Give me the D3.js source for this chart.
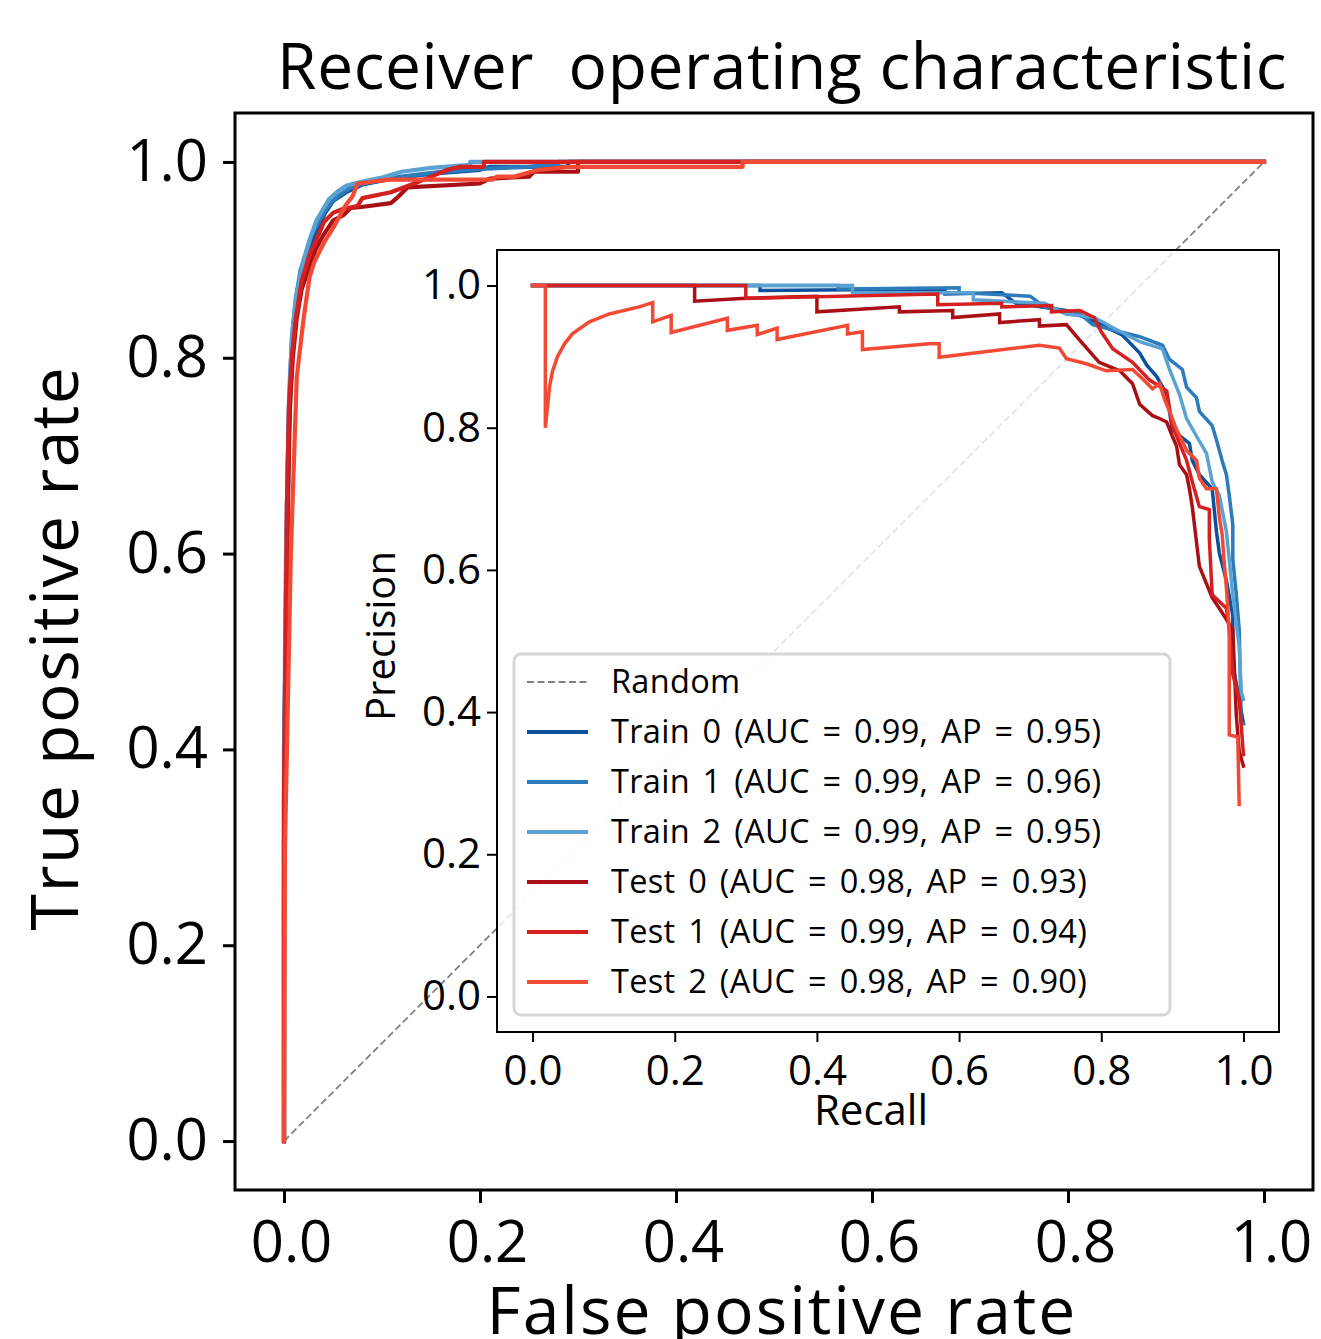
<!DOCTYPE html>
<html><head><meta charset="utf-8">
<script src="https://cdn.jsdelivr.net/npm/d3@7/dist/d3.min.js"></script>
<style>
body{margin:0;background:#fff}
svg{display:block}
text{font-family:"Open Sans",sans-serif;fill:#000}
</style>
</head><body>
<svg id="c" width="1321" height="1339"></svg>
<script>
// ---------------- DATA ----------------
const seriesNames = ["Train 0","Train 1","Train 2","Test 0","Test 1","Test 2"];
const aucValues = [0.99,0.99,0.99,0.98,0.99,0.98];
const apValues  = [0.95,0.96,0.95,0.93,0.94,0.90];
const tickValues = [0,0.2,0.4,0.6,0.8,1.0];
const tickLabels = ["0.0","0.2","0.4","0.6","0.8","1.0"];
const randomLine = [[0,0],[1,1]];

// ROC curves [fpr, tpr]
const rocTrain0 = [[0,0],[0,0.4],[0.003,0.6],[0.005,0.72],[0.008,0.8],[0.013,0.85],[0.018,0.88],[0.025,0.91],[0.033,0.93],[0.042,0.948],[0.05,0.96],[0.065,0.97],[0.08,0.977],[0.11,0.983],[0.15,0.988],[0.2,0.992],[0.21,0.995],[0.29,0.995],[0.29,1],[1,1]];
const rocTrain1 = [[0,0],[0,0.35],[0.002,0.55],[0.003,0.65],[0.005,0.75],[0.008,0.82],[0.012,0.86],[0.017,0.89],[0.022,0.905],[0.028,0.925],[0.036,0.94],[0.045,0.955],[0.055,0.965],[0.07,0.975],[0.09,0.98],[0.12,0.985],[0.16,0.99],[0.2,0.993],[0.25,0.995],[0.28,0.998],[0.28,1],[1,1]];
const rocTrain2 = [[0,0],[0,0.3],[0.001,0.5],[0.002,0.6],[0.004,0.7],[0.006,0.78],[0.009,0.83],[0.012,0.86],[0.016,0.88],[0.02,0.9],[0.026,0.92],[0.033,0.94],[0.04,0.952],[0.046,0.962],[0.055,0.97],[0.064,0.976],[0.08,0.98],[0.1,0.984],[0.12,0.99],[0.15,0.994],[0.19,0.997],[0.19,1],[1,1]];
const rocTest0 = [[0,0],[0,0.3],[0.002,0.5],[0.004,0.65],[0.006,0.75],[0.009,0.8],[0.013,0.84],[0.018,0.87],[0.025,0.89],[0.032,0.91],[0.04,0.925],[0.05,0.94],[0.061,0.946],[0.068,0.953],[0.079,0.954],[0.109,0.958],[0.115,0.963],[0.126,0.974],[0.2,0.978],[0.21,0.983],[0.25,0.985],[0.255,0.99],[0.3,0.99],[0.3,1],[1,1]];
const rocTest1 = [[0,0],[0,0.35],[0.002,0.55],[0.003,0.65],[0.005,0.75],[0.008,0.8],[0.012,0.84],[0.018,0.878],[0.026,0.905],[0.033,0.92],[0.041,0.939],[0.05,0.948],[0.06,0.952],[0.075,0.955],[0.08,0.963],[0.109,0.969],[0.133,0.978],[0.15,0.985],[0.167,0.992],[0.18,0.995],[0.204,0.995],[0.204,1],[1,1]];
const rocTest2 = [[0,0],[0.001,0.3],[0.003,0.4],[0.005,0.5],[0.007,0.6],[0.01,0.69],[0.013,0.78],[0.02,0.84],[0.026,0.882],[0.031,0.898],[0.041,0.918],[0.051,0.934],[0.063,0.956],[0.07,0.965],[0.075,0.978],[0.107,0.982],[0.213,0.982],[0.217,0.985],[0.235,0.985],[0.26,0.992],[0.29,0.995],[0.468,0.995],[0.468,1],[1,1]];

// Precision-recall curves [recall, precision]
const prTrain0 = [[0,1],[0.32,1],[0.32,0.993],[0.58,0.995],[0.58,0.988],[0.66,0.99],[0.68,0.975],[0.75,0.965],[0.77,0.958],[0.8,0.945],[0.83,0.93],[0.854,0.905],[0.864,0.888],[0.878,0.872],[0.892,0.847],[0.9,0.797],[0.924,0.778],[0.928,0.754],[0.938,0.734],[0.956,0.714],[0.962,0.654],[0.966,0.624],[0.976,0.585],[0.985,0.536],[0.985,0.467],[0.994,0.418],[1.0,0.384]];
const prTrain1 = [[0,1],[0.43,1],[0.43,0.995],[0.6,0.997],[0.6,0.99],[0.7,0.985],[0.72,0.97],[0.769,0.961],[0.788,0.945],[0.826,0.935],[0.854,0.928],[0.886,0.916],[0.896,0.896],[0.914,0.882],[0.92,0.857],[0.934,0.842],[0.938,0.823],[0.956,0.803],[0.962,0.783],[0.97,0.754],[0.976,0.734],[0.98,0.705],[0.985,0.664],[0.985,0.615],[0.99,0.565],[0.994,0.516],[0.997,0.384],[1.0,0.384]];
const prTrain2 = [[0,1],[0.45,1],[0.45,0.99],[0.62,0.99],[0.62,0.98],[0.72,0.975],[0.75,0.96],[0.79,0.955],[0.816,0.941],[0.854,0.921],[0.886,0.911],[0.896,0.882],[0.91,0.847],[0.92,0.813],[0.934,0.788],[0.948,0.764],[0.956,0.724],[0.966,0.705],[0.976,0.654],[0.98,0.615],[0.985,0.565],[0.994,0.492],[0.997,0.428],[1.0,0.418]];
const prTest0 = [[0,1],[0.228,1],[0.228,0.978],[0.3,0.982],[0.4,0.985],[0.4,0.963],[0.516,0.97],[0.516,0.963],[0.591,0.965],[0.591,0.955],[0.657,0.96],[0.657,0.948],[0.713,0.952],[0.713,0.943],[0.751,0.945],[0.769,0.924],[0.797,0.892],[0.826,0.88],[0.844,0.862],[0.854,0.833],[0.872,0.817],[0.882,0.813],[0.892,0.808],[0.9,0.788],[0.906,0.774],[0.91,0.748],[0.92,0.734],[0.924,0.714],[0.928,0.689],[0.938,0.605],[0.956,0.561],[0.966,0.546],[0.985,0.516],[0.99,0.394],[0.994,0.345],[1.0,0.324]];
const prTest1 = [[0,1],[0.3,1],[0.3,0.982],[0.57,0.988],[0.57,0.973],[0.66,0.975],[0.66,0.97],[0.73,0.972],[0.73,0.963],[0.77,0.965],[0.79,0.955],[0.8,0.935],[0.816,0.911],[0.844,0.892],[0.868,0.867],[0.892,0.852],[0.9,0.803],[0.91,0.778],[0.92,0.754],[0.928,0.724],[0.938,0.689],[0.952,0.685],[0.952,0.644],[0.956,0.565],[0.976,0.546],[0.98,0.516],[0.985,0.453],[0.994,0.418],[1.0,0.34]];
const prTest2 = [[0,1],[0.018,1],[0.018,0.8],[0.024,0.858],[0.028,0.879],[0.035,0.9],[0.045,0.918],[0.056,0.932],[0.08,0.949],[0.108,0.96],[0.15,0.97],[0.169,0.976],[0.169,0.949],[0.195,0.958],[0.195,0.934],[0.274,0.954],[0.274,0.937],[0.316,0.944],[0.316,0.931],[0.344,0.94],[0.344,0.924],[0.443,0.944],[0.443,0.932],[0.464,0.935],[0.464,0.91],[0.558,0.918],[0.572,0.918],[0.572,0.899],[0.713,0.916],[0.741,0.912],[0.751,0.897],[0.779,0.89],[0.807,0.88],[0.844,0.882],[0.858,0.869],[0.872,0.855],[0.882,0.862],[0.889,0.84],[0.896,0.823],[0.906,0.797],[0.913,0.783],[0.92,0.768],[0.934,0.754],[0.938,0.729],[0.948,0.714],[0.962,0.714],[0.966,0.675],[0.97,0.65],[0.973,0.61],[0.976,0.575],[0.98,0.516],[0.98,0.368],[0.992,0.365],[0.994,0.27]];

const rocSeries = [rocTrain0,rocTrain1,rocTrain2,rocTest0,rocTest1,rocTest2];
const prSeries = [prTrain0,prTrain1,prTrain2,prTest0,prTest1,prTest2];

// ---------------- STYLE ----------------
const colors = ["#0d519d","#2c7bbb","#5aa2d2","#a91016","#d42020","#f34a36"];

const svg = d3.select("#c");

// main axes
const M = {l:235,r:1313,t:113,b:1190};
const x = d3.scaleLinear([-0.05,1.05],[M.l,M.r]);
const y = d3.scaleLinear([-0.05,1.05],[M.b,M.t]);
const line = d3.line().x(d=>x(d[0])).y(d=>y(d[1]));

svg.append("path").datum(randomLine).attr("d",line)
  .attr("fill","none").attr("stroke","#808080").attr("stroke-width",1.8).attr("stroke-dasharray","7,3.5");

rocSeries.forEach((s,i)=>{
  svg.append("path").datum(s).attr("d",line)
    .attr("fill","none").attr("stroke",colors[i]).attr("stroke-width",4.2)
    .attr("stroke-linejoin","round").attr("stroke-linecap","square");
});

const fmt = (d)=>tickLabels[tickValues.indexOf(d)];
const gx = svg.append("g").attr("transform",`translate(0,${M.b})`)
  .call(d3.axisBottom(x).tickValues(tickValues).tickFormat(fmt).tickSize(13).tickPadding(18));
const gy = svg.append("g").attr("transform",`translate(${M.l},0)`)
  .call(d3.axisLeft(y).tickValues(tickValues).tickFormat(fmt).tickSize(12).tickPadding(15));
[gx,gy].forEach(g=>{
  g.select(".domain").remove();
  g.selectAll(".tick line").attr("stroke","#000").attr("stroke-width",3);
  g.selectAll(".tick text").attr("font-family",'"Open Sans",sans-serif').attr("font-size",58).attr("fill","#000");
});
gx.selectAll(".tick text").attr("dx",7);
svg.append("rect").attr("x",M.l).attr("y",M.t).attr("width",M.r-M.l).attr("height",M.b-M.t)
  .attr("fill","none").attr("stroke","#000").attr("stroke-width",3);

svg.append("text").attr("x",782).attr("y",89).attr("text-anchor","middle")
  .attr("font-size",64).attr("letter-spacing",0.6).style("white-space","pre").text("Receiver  operating characteristic");
svg.append("text").attr("x",782).attr("y",1334).attr("text-anchor","middle")
  .attr("font-size",66).attr("letter-spacing",2).text("False positive rate");
svg.append("text").attr("transform","translate(78,648) rotate(-90)").attr("text-anchor","middle")
  .attr("font-size",66).attr("letter-spacing",1.5).text("True positive rate");

// inset axes
const I = {l:497,r:1279,t:250,b:1032};
const xi = d3.scaleLinear([-0.05,1.05],[I.l,I.r]);
const yi = d3.scaleLinear([-0.05,1.05],[I.b,I.t]);
const linei = d3.line().x(d=>xi(d[0])).y(d=>yi(d[1]));

svg.append("rect").attr("x",I.l).attr("y",I.t).attr("width",I.r-I.l).attr("height",I.b-I.t)
  .attr("fill","#fff").attr("fill-opacity",0.8);

prSeries.forEach((s,i)=>{
  svg.append("path").datum(s).attr("d",linei)
    .attr("fill","none").attr("stroke",colors[i]).attr("stroke-width",3.5)
    .attr("stroke-linejoin","miter").attr("stroke-linecap","square");
});

const gxi = svg.append("g").attr("transform",`translate(0,${I.b})`)
  .call(d3.axisBottom(xi).tickValues(tickValues).tickFormat(fmt).tickSize(10).tickPadding(13));
const gyi = svg.append("g").attr("transform",`translate(${I.l},0)`)
  .call(d3.axisLeft(yi).tickValues(tickValues).tickFormat(fmt).tickSize(10).tickPadding(6));
[gxi,gyi].forEach(g=>{
  g.select(".domain").remove();
  g.selectAll(".tick line").attr("stroke","#000").attr("stroke-width",2);
  g.selectAll(".tick text").attr("font-family",'"Open Sans",sans-serif').attr("font-size",42).attr("fill","#000");
});
svg.append("rect").attr("x",I.l).attr("y",I.t).attr("width",I.r-I.l).attr("height",I.b-I.t)
  .attr("fill","none").attr("stroke","#000").attr("stroke-width",2);

svg.append("text").attr("x",871).attr("y",1125).attr("text-anchor","middle")
  .attr("font-size",42).text("Recall");
svg.append("text").attr("transform","translate(395,636) rotate(-90)").attr("text-anchor","middle")
  .attr("font-size",40).text("Precision");

// legend
const L = {x:514,y:654,w:656,h:361};
svg.append("rect").attr("x",L.x).attr("y",L.y).attr("width",L.w).attr("height",L.h).attr("rx",7)
  .attr("fill","#fff").attr("fill-opacity",0.8).attr("stroke","#cccccc").attr("stroke-opacity",0.8).attr("stroke-width",3);
const legendItems = [{label:"Random",color:"#808080",dash:true}]
  .concat(seriesNames.map((n,i)=>({label:`${n} (AUC = ${aucValues[i].toFixed(2)}, AP = ${apValues[i].toFixed(2)})`,color:colors[i]})));
const rowY = d3.scalePoint(d3.range(legendItems.length),[682,982]);
legendItems.forEach((it,i)=>{
  const yy = rowY(i);
  svg.append("line").attr("x1",527).attr("x2",588).attr("y1",yy).attr("y2",yy)
    .attr("stroke",it.color).attr("stroke-width",it.dash?1.8:4)
    .attr("stroke-dasharray",it.dash?"7,3.5":null);
  svg.append("text").attr("x",611).attr("y",yy).attr("dy","0.35em").attr("font-size",32.5)
    .attr("word-spacing",4).attr("letter-spacing",0.3).text(it.label);
});
</script>
</body></html>
